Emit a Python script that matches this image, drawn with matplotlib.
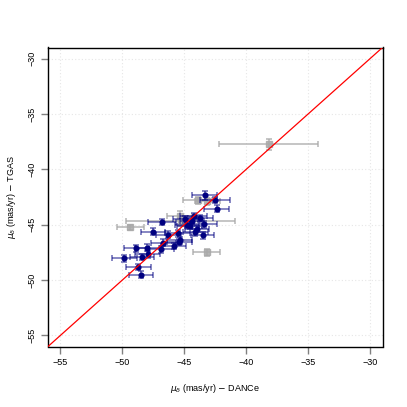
import numpy as np
import matplotlib
matplotlib.use('Agg')
import matplotlib.pyplot as plt


# Datos (DANCe vs TGAS, mu_delta en mas/yr)

dance_ok = [-46.80, -47.53, -46.30, -45.54, -46.69, -45.40, -45.86, -46.85,
            -48.00, -48.87, -47.96, -48.41, -49.84, -48.71, -48.49, -43.36,
            -42.50, -42.37, -44.92, -44.25, -43.70, -44.57, -43.98, -43.44,
            -44.11, -43.52, -45.38, -44.78, -44.38]
tgas_ok = [-44.76, -45.63, -45.90, -45.78, -46.62, -46.56, -46.92, -47.23,
           -47.08, -47.14, -47.68, -47.92, -48.04, -48.82, -49.50, -42.35,
           -42.78, -43.56, -44.52, -44.20, -44.44, -45.10, -45.40, -44.97,
           -45.70, -45.97, -46.42, -45.03, -44.64]
err_dance_ok = [1.15, 1.00, 1.00, 1.00, 1.00, 1.00, 1.00, 1.00,
                1.00, 1.00, 1.00, 1.00, 1.00, 1.00, 0.95, 1.00,
                1.20, 1.00, 1.00, 1.10, 1.00, 1.00, 1.00, 1.10,
                1.00, 0.90, 1.00, 1.00, 1.00]
err_tgas_ok = [0.30, 0.30, 0.30, 0.30, 0.30, 0.30, 0.30, 0.30,
               0.30, 0.30, 0.30, 0.30, 0.30, 0.30, 0.30, 0.40,
               0.30, 0.30, 0.30, 0.30, 0.30, 0.30, 0.30, 0.30,
               0.30, 0.30, 0.30, 0.30, 0.30]

dance_out = [-38.20, -49.35, -43.20, -43.93, -45.38, -45.27, -43.15]
tgas_out = [-37.75, -45.24, -47.50, -42.80, -44.20, -44.70, -42.90]
err_dance_out = [4.00, 1.10, 1.10, 1.20, 1.00, 4.40, 1.00]
err_tgas_out = [0.50, 0.20, 0.30, 0.30, 0.40, 0.40, 0.30]

ticks = [-55, -50, -45, -40, -35, -30]
lims = (-56, -29)


if __name__ == "__main__":

    plt.rcParams['font.family'] = ['Liberation Sans', 'DejaVu Sans']

    fig = plt.figure(figsize=(4.07, 4.07), dpi=100)
    ax = fig.add_axes([48/407, 1 - 346.5/407, (382.5 - 48)/407, (346.5 - 47.5)/407])

    # Rejilla punteada

    for t in ticks:
        ax.axvline(t, color='#e6e6e6', linestyle=(0, (1, 2)), linewidth=0.8, zorder=0)
        ax.axhline(t, color='#e6e6e6', linestyle=(0, (1, 2)), linewidth=0.8, zorder=0)

    # Puntos con errores

    ax.errorbar(dance_out, tgas_out, xerr=err_dance_out, yerr=err_tgas_out,
                fmt='s', color='#a9a9a9', ms=4.2, ecolor='#a9a9a9', elinewidth=1.1,
                capsize=2.4, capthick=1.1, alpha=0.85, zorder=2)

    ax.errorbar(dance_ok, tgas_ok, xerr=err_dance_ok, yerr=err_tgas_ok,
                fmt='none', ecolor=(0, 0, 0.5, 0.6), elinewidth=1.1,
                capsize=2.4, capthick=1.1, zorder=3)
    ax.plot(dance_ok, tgas_ok, 'o', color='#000080', ms=3.4, zorder=4)

    # Recta 1:1

    ax.plot(lims, lims, color='red', linewidth=0.9, zorder=5)

    # Ejes

    ax.set_xlim(lims)
    ax.set_ylim(lims)
    ax.set_xticks(ticks)
    ax.set_yticks(ticks)
    ax.tick_params(direction='out', length=5, width=1, color='#808080', labelsize=6.5, pad=3)
    for lab in ax.get_yticklabels():
        lab.set_rotation(90)
        lab.set_va('center')
    for s in ax.spines.values():
        s.set_linewidth(1)
        s.set_color('black')

    ax.set_xlabel(r'$\mu_\delta$ (mas/yr) $-$ DANCe', fontsize=6.5, labelpad=11)
    ax.set_ylabel(r'$\mu_\delta$ (mas/yr) $-$ TGAS', fontsize=6.5, labelpad=7)

    fig.savefig('out.png', dpi=100)
